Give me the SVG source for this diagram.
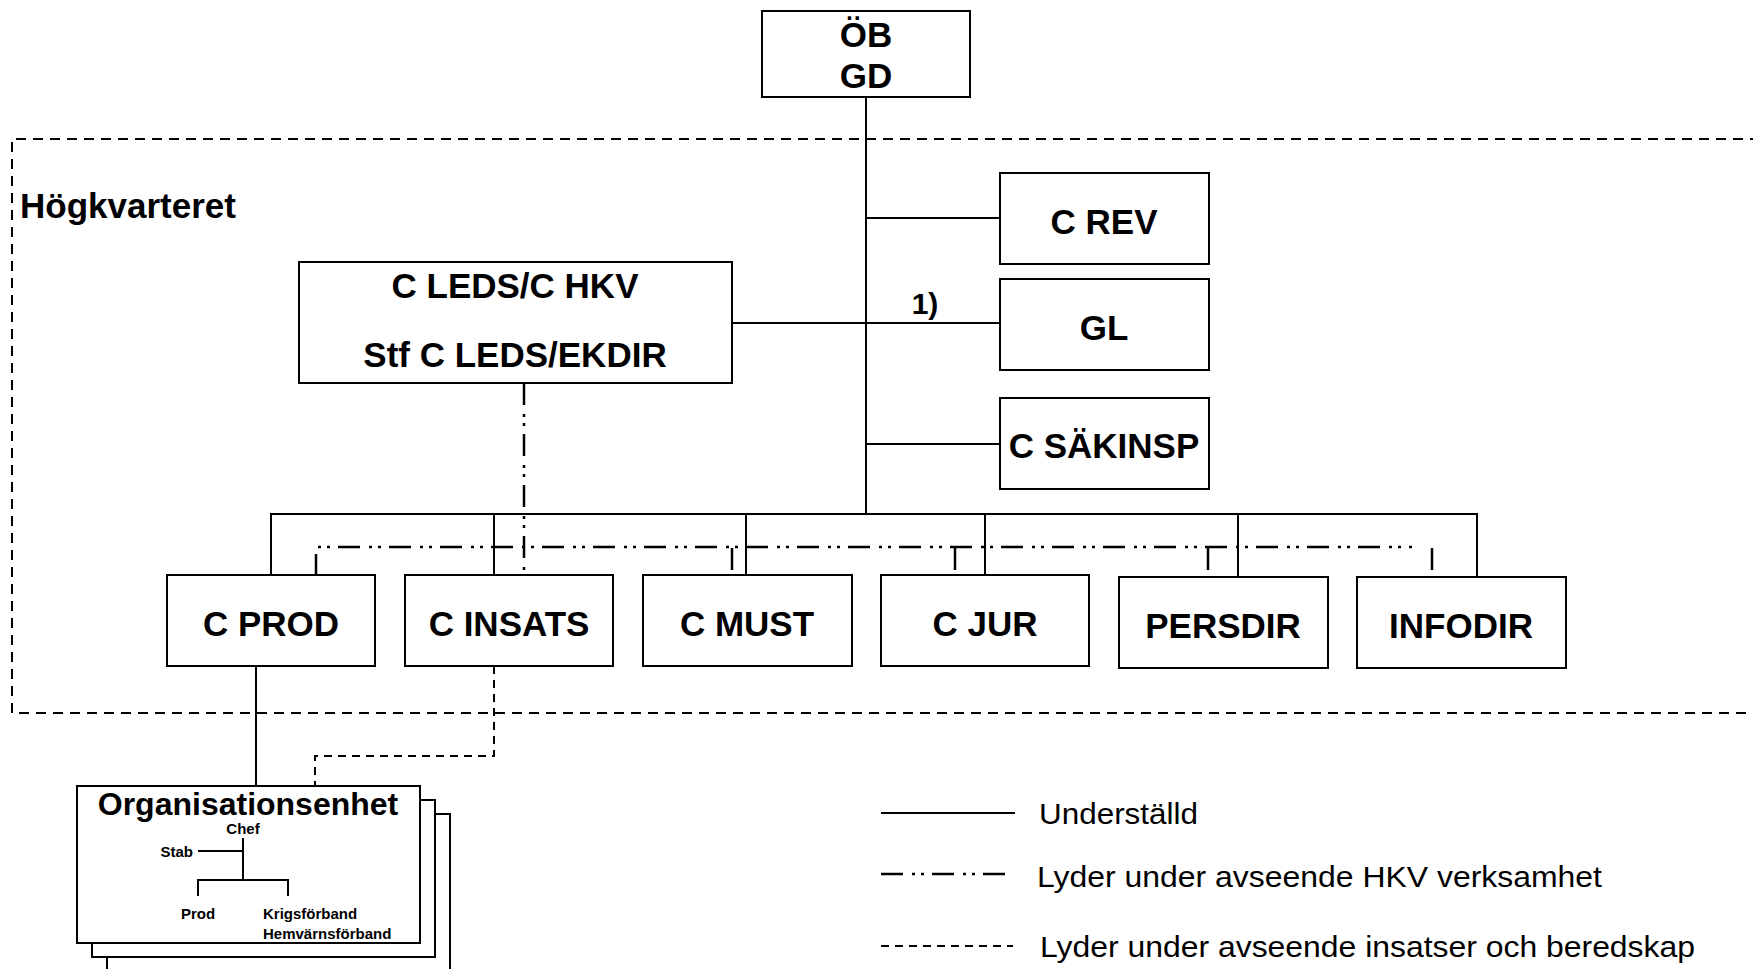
<svg xmlns="http://www.w3.org/2000/svg" width="1753" height="969" viewBox="0 0 1753 969">
<style>
.box{fill:#fff;stroke:#000;stroke-width:2}
.t{font-family:"Liberation Sans",Arial,sans-serif;font-weight:bold;fill:#000;text-anchor:middle}
.big{font-size:35px}
.sm{font-size:15px}
.leg{font-family:"Liberation Sans",Arial,sans-serif;font-size:30px;fill:#000}
.solid{fill:none;stroke:#000;stroke-width:2}
.dd{fill:none;stroke:#000;stroke-width:2.5;stroke-dasharray:22 9 3 6 3 8}
.dash{fill:none;stroke:#000;stroke-width:2;stroke-dasharray:8 6}
.frame{fill:none;stroke:#000;stroke-width:2;stroke-dasharray:10 7}
</style>
<rect width="1753" height="969" fill="#fff"/>
<g id="hkv-frame">
<path class="frame" d="M1760,139 H12 V713 H1760"/>
<text x="20" y="218" class="t big" style="text-anchor:start">Högkvarteret</text>
</g>
<g id="connectors">
<path class="solid" d="M866,97 V514"/>
<path class="solid" d="M866,218 H1000"/>
<path class="solid" d="M732,323 H1000"/>
<path class="solid" d="M866,444 H1000"/>
<path class="solid" d="M271,575 V514 H1477 V577"/>
<path class="solid" d="M494,514 V575"/>
<path class="solid" d="M746,514 V575"/>
<path class="solid" d="M985,514 V575"/>
<path class="solid" d="M1238,514 V577"/>
<path class="dd" d="M524,383 V575"/>
<path class="dd" d="M316,576 V547 H1412"/>
<path class="dd" d="M732,548 V575"/>
<path class="dd" d="M955,548 V575"/>
<path class="dd" d="M1208,548 V575"/>
<path class="dd" d="M1432,548 V575"/>
<path class="solid" d="M256,666 V786"/>
<path class="dash" d="M494,666 V756 H315 V786"/>
<text x="925" y="314" class="t" style="font-size:30px">1)</text>
</g>
<g id="node-ob">
<rect class="box" x="762" y="11" width="208" height="86"/>
<text x="866" y="47" class="t big">ÖB</text>
<text x="866" y="88" class="t big">GD</text>
</g>
<g id="node-crev">
<rect class="box" x="1000" y="173" width="209" height="91"/>
<text x="1104" y="234" class="t big">C REV</text>
</g>
<g id="node-gl">
<rect class="box" x="1000" y="279" width="209" height="91"/>
<text x="1104" y="340" class="t big">GL</text>
</g>
<g id="node-csakinsp">
<rect class="box" x="1000" y="398" width="209" height="91"/>
<text x="1104" y="458" class="t big">C SÄKINSP</text>
</g>
<g id="node-cleds">
<rect class="box" x="299" y="262" width="433" height="121"/>
<text x="515" y="298" class="t big">C LEDS/C HKV</text>
<text x="515" y="367" class="t big">Stf C LEDS/EKDIR</text>
</g>
<g id="node-cprod">
<rect class="box" x="167" y="575" width="208" height="91"/>
<text x="271" y="636" class="t big">C PROD</text>
</g>
<g id="node-cinsats">
<rect class="box" x="405" y="575" width="208" height="91"/>
<text x="509" y="636" class="t big">C INSATS</text>
</g>
<g id="node-cmust">
<rect class="box" x="643" y="575" width="209" height="91"/>
<text x="747" y="636" class="t big">C MUST</text>
</g>
<g id="node-cjur">
<rect class="box" x="881" y="575" width="208" height="91"/>
<text x="985" y="636" class="t big">C JUR</text>
</g>
<g id="node-persdir">
<rect class="box" x="1119" y="577" width="209" height="91"/>
<text x="1223" y="638" class="t big">PERSDIR</text>
</g>
<g id="node-infodir">
<rect class="box" x="1357" y="577" width="209" height="91"/>
<text x="1461" y="638" class="t big">INFODIR</text>
</g>
<g id="node-org">
<rect class="box" x="107" y="814" width="343" height="170"/>
<rect class="box" x="92" y="800" width="343" height="157"/>
<rect class="box" x="77" y="786" width="343" height="157"/>
<text x="248" y="815" class="t" style="font-size:32px">Organisationsenhet</text>
<text x="243" y="834" class="t sm">Chef</text>
<path class="solid" d="M243,838 V880 M198,851 H243 M198,896 V880 H288 V896"/>
<text x="193" y="857" class="t sm" style="text-anchor:end">Stab</text>
<text x="198" y="919" class="t sm">Prod</text>
<text x="263" y="919" class="t sm" style="text-anchor:start">Krigsförband</text>
<text x="263" y="939" class="t sm" style="text-anchor:start">Hemvärnsförband</text>
</g>
<g id="legend">
<path class="solid" d="M881,813 H1015"/>
<text x="1039" y="824" class="leg" textLength="159" lengthAdjust="spacingAndGlyphs">Underställd</text>
<path class="dd" d="M881,874 H1013"/>
<text x="1037" y="887" class="leg" textLength="565" lengthAdjust="spacingAndGlyphs">Lyder under avseende HKV verksamhet</text>
<path class="dash" d="M881,946 H1013"/>
<text x="1040" y="957" class="leg" textLength="655" lengthAdjust="spacingAndGlyphs">Lyder under avseende insatser och beredskap</text>
</g>
</svg>
